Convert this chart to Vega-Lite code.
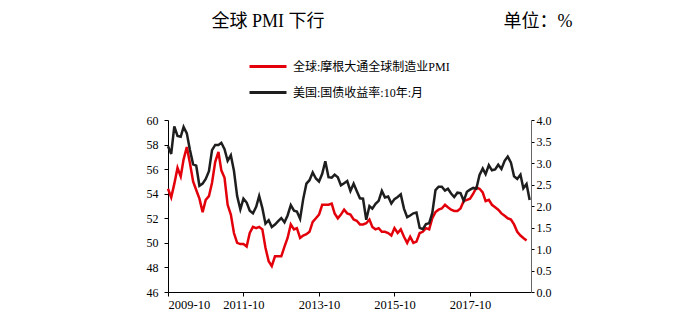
{
  "$schema": "https://vega.github.io/schema/vega-lite/v6.json",
  "width": 363,
  "height": 172,
  "autosize": "none",
  "padding": {"left": 168, "top": 120, "right": 169, "bottom": 29},
  "background": "white",
  "config": {
    "view": {"stroke": null},
    "font": "Liberation Serif, Noto Sans CJK SC",
    "axis": {"grid": false, "labelFont": "Liberation Serif", "labelFontSize": 12, "labelColor": "#000", "domainColor": "#000", "tickColor": "#000", "titleFontWeight": "normal", "titleColor": "#000", "titleFont": "Liberation Serif, Noto Sans CJK SC"},
    "legend": {"labelFont": "Liberation Serif, Noto Sans CJK SC"}
  },
  "data": {"values": [
    {"d":"2009-10-01","pmi":54.4,"ust":3.39},{"d":"2009-11-01","pmi":53.7,"ust":3.21},{"d":"2009-12-01","pmi":54.8,"ust":3.85},
    {"d":"2010-01-01","pmi":56.1,"ust":3.63},{"d":"2010-02-01","pmi":55.4,"ust":3.61},{"d":"2010-03-01","pmi":56.8,"ust":3.84},{"d":"2010-04-01","pmi":57.8,"ust":3.69},{"d":"2010-05-01","pmi":56.5,"ust":3.31},{"d":"2010-06-01","pmi":55.0,"ust":2.97},{"d":"2010-07-01","pmi":54.3,"ust":2.94},{"d":"2010-08-01","pmi":53.6,"ust":2.47},{"d":"2010-09-01","pmi":52.5,"ust":2.52},{"d":"2010-10-01","pmi":53.5,"ust":2.63},{"d":"2010-11-01","pmi":53.8,"ust":2.81},{"d":"2010-12-01","pmi":54.9,"ust":3.30},
    {"d":"2011-01-01","pmi":56.6,"ust":3.42},{"d":"2011-02-01","pmi":57.4,"ust":3.42},{"d":"2011-03-01","pmi":55.9,"ust":3.47},{"d":"2011-04-01","pmi":55.3,"ust":3.32},{"d":"2011-05-01","pmi":53.1,"ust":3.05},{"d":"2011-06-01","pmi":52.3,"ust":3.18},{"d":"2011-07-01","pmi":50.8,"ust":2.82},{"d":"2011-08-01","pmi":50.0,"ust":2.23},{"d":"2011-09-01","pmi":49.9,"ust":1.92},{"d":"2011-10-01","pmi":49.9,"ust":2.17},{"d":"2011-11-01","pmi":49.7,"ust":2.08},{"d":"2011-12-01","pmi":50.8,"ust":1.89},
    {"d":"2012-01-01","pmi":51.3,"ust":1.83},{"d":"2012-02-01","pmi":51.2,"ust":1.98},{"d":"2012-03-01","pmi":51.3,"ust":2.23},{"d":"2012-04-01","pmi":51.1,"ust":1.95},{"d":"2012-05-01","pmi":49.6,"ust":1.59},{"d":"2012-06-01","pmi":48.5,"ust":1.67},{"d":"2012-07-01","pmi":48.1,"ust":1.51},{"d":"2012-08-01","pmi":48.9,"ust":1.57},{"d":"2012-09-01","pmi":48.9,"ust":1.65},{"d":"2012-10-01","pmi":48.9,"ust":1.72},{"d":"2012-11-01","pmi":49.7,"ust":1.62},{"d":"2012-12-01","pmi":50.4,"ust":1.78},
    {"d":"2013-01-01","pmi":51.5,"ust":2.02},{"d":"2013-02-01","pmi":51.1,"ust":1.89},{"d":"2013-03-01","pmi":51.2,"ust":1.87},{"d":"2013-04-01","pmi":50.4,"ust":1.70},{"d":"2013-05-01","pmi":50.6,"ust":2.16},{"d":"2013-06-01","pmi":50.7,"ust":2.52},{"d":"2013-07-01","pmi":50.9,"ust":2.60},{"d":"2013-08-01","pmi":51.7,"ust":2.78},{"d":"2013-09-01","pmi":52.0,"ust":2.64},{"d":"2013-10-01","pmi":52.3,"ust":2.57},{"d":"2013-11-01","pmi":53.1,"ust":2.75},{"d":"2013-12-01","pmi":53.1,"ust":3.04},
    {"d":"2014-01-01","pmi":53.1,"ust":2.67},{"d":"2014-02-01","pmi":53.2,"ust":2.66},{"d":"2014-03-01","pmi":52.4,"ust":2.73},{"d":"2014-04-01","pmi":52.0,"ust":2.67},{"d":"2014-05-01","pmi":52.3,"ust":2.48},{"d":"2014-06-01","pmi":52.7,"ust":2.53},{"d":"2014-07-01","pmi":52.4,"ust":2.58},{"d":"2014-08-01","pmi":52.3,"ust":2.35},{"d":"2014-09-01","pmi":51.9,"ust":2.52},{"d":"2014-10-01","pmi":51.8,"ust":2.35},{"d":"2014-11-01","pmi":51.5,"ust":2.18},{"d":"2014-12-01","pmi":51.5,"ust":2.17},
    {"d":"2015-01-01","pmi":51.6,"ust":1.68},{"d":"2015-02-01","pmi":51.9,"ust":2.00},{"d":"2015-03-01","pmi":51.3,"ust":1.94},{"d":"2015-04-01","pmi":51.1,"ust":2.05},{"d":"2015-05-01","pmi":51.2,"ust":2.12},{"d":"2015-06-01","pmi":50.9,"ust":2.35},{"d":"2015-07-01","pmi":50.9,"ust":2.20},{"d":"2015-08-01","pmi":50.8,"ust":2.22},{"d":"2015-09-01","pmi":50.6,"ust":2.06},{"d":"2015-10-01","pmi":51.2,"ust":2.16},{"d":"2015-11-01","pmi":50.8,"ust":2.21},{"d":"2015-12-01","pmi":51.1,"ust":2.27},
    {"d":"2016-01-01","pmi":50.5,"ust":1.94},{"d":"2016-02-01","pmi":50.0,"ust":1.74},{"d":"2016-03-01","pmi":50.5,"ust":1.78},{"d":"2016-04-01","pmi":50.0,"ust":1.83},{"d":"2016-05-01","pmi":50.1,"ust":1.85},{"d":"2016-06-01","pmi":50.8,"ust":1.49},{"d":"2016-07-01","pmi":50.9,"ust":1.46},{"d":"2016-08-01","pmi":51.2,"ust":1.58},{"d":"2016-09-01","pmi":51.1,"ust":1.60},{"d":"2016-10-01","pmi":52.0,"ust":1.84},{"d":"2016-11-01","pmi":52.5,"ust":2.37},{"d":"2016-12-01","pmi":52.7,"ust":2.45},
    {"d":"2017-01-01","pmi":52.8,"ust":2.45},{"d":"2017-02-01","pmi":53.1,"ust":2.36},{"d":"2017-03-01","pmi":52.9,"ust":2.40},{"d":"2017-04-01","pmi":52.7,"ust":2.29},{"d":"2017-05-01","pmi":52.6,"ust":2.21},{"d":"2017-06-01","pmi":52.6,"ust":2.31},{"d":"2017-07-01","pmi":52.8,"ust":2.30},{"d":"2017-08-01","pmi":53.4,"ust":2.12},{"d":"2017-09-01","pmi":53.5,"ust":2.33},{"d":"2017-10-01","pmi":53.6,"ust":2.38},{"d":"2017-11-01","pmi":54.0,"ust":2.42},{"d":"2017-12-01","pmi":54.5,"ust":2.40},
    {"d":"2018-01-01","pmi":54.4,"ust":2.72},{"d":"2018-02-01","pmi":54.1,"ust":2.87},{"d":"2018-03-01","pmi":53.4,"ust":2.74},{"d":"2018-04-01","pmi":53.5,"ust":2.95},{"d":"2018-05-01","pmi":53.1,"ust":2.83},{"d":"2018-06-01","pmi":52.9,"ust":2.85},{"d":"2018-07-01","pmi":52.7,"ust":2.96},{"d":"2018-08-01","pmi":52.4,"ust":2.86},{"d":"2018-09-01","pmi":52.2,"ust":3.05},{"d":"2018-10-01","pmi":52.0,"ust":3.15},{"d":"2018-11-01","pmi":51.9,"ust":3.01},{"d":"2018-12-01","pmi":51.5,"ust":2.69},
    {"d":"2019-01-01","pmi":50.9,"ust":2.63},{"d":"2019-02-01","pmi":50.6,"ust":2.73},{"d":"2019-03-01","pmi":50.4,"ust":2.41},{"d":"2019-04-01","pmi":50.2,"ust":2.51},{"d":"2019-05-01","pmi":null,"ust":2.14}
  ]},
  "encoding": {
    "x": {
      "field": "d", "type": "temporal",
      "scale": {"type": "utc", "domain": [{"year": 2009, "month": 10, "date": 1, "utc": true}, {"year": 2019, "month": 5, "date": 14, "utc": true}]},
      "axis": {
        "title": null, "format": "%Y-%m", "tickSize": 4, "labelPadding": 2, "labelFontSize": 12.5,
        "values": [
          {"year": 2009, "month": 10, "date": 1, "utc": true},
          {"year": 2011, "month": 10, "date": 1, "utc": true},
          {"year": 2013, "month": 10, "date": 1, "utc": true},
          {"year": 2015, "month": 10, "date": 1, "utc": true},
          {"year": 2017, "month": 10, "date": 1, "utc": true}
        ]
      }
    }
  },
  "layer": [
    {
      "mark": {"type": "line", "strokeWidth": 2.5},
      "encoding": {
        "y": {
          "field": "pmi", "type": "quantitative",
          "scale": {"domain": [46, 60], "zero": false, "nice": false},
          "axis": {
            "orient": "left", "values": [46, 48, 50, 52, 54, 56, 58, 60], "tickSize": 4, "labelPadding": 6,
            "title": "全球 PMI 下行", "titleAngle": 0, "titleX": 43, "titleY": -94, "titleAlign": "left", "titleBaseline": "alphabetic", "titleFontSize": 18
          }
        },
        "color": {
          "datum": "全球:摩根大通全球制造业PMI", "type": "nominal",
          "scale": {"domain": ["全球:摩根大通全球制造业PMI", "美国:国债收益率:10年:月"], "range": ["#e3000b", "#1e1e1e"]},
          "legend": {
            "title": null, "orient": "none", "legendX": 80, "legendY": -73.5, "direction": "vertical",
            "symbolType": "stroke", "symbolSize": 1369, "symbolStrokeWidth": 3, "rowPadding": -11,
            "labelFontSize": 12, "labelOffset": 5, "labelColor": "#000", "padding": 0
          }
        }
      }
    },
    {
      "mark": {"type": "line", "strokeWidth": 2.5},
      "encoding": {
        "y": {
          "field": "ust", "type": "quantitative",
          "scale": {"domain": [0, 4], "nice": false},
          "axis": {
            "orient": "right", "values": [0, 0.5, 1, 1.5, 2, 2.5, 3, 3.5, 4], "format": ".1f", "tickSize": 3, "labelPadding": 2,
            "domainColor": "#666",
            "title": "单位：%", "titleAngle": 0, "titleX": -28, "titleY": -94, "titleAlign": "left", "titleBaseline": "alphabetic", "titleFontSize": 18
          }
        },
        "color": {"datum": "美国:国债收益率:10年:月", "type": "nominal"}
      }
    }
  ],
  "resolve": {"scale": {"y": "independent"}}
}
